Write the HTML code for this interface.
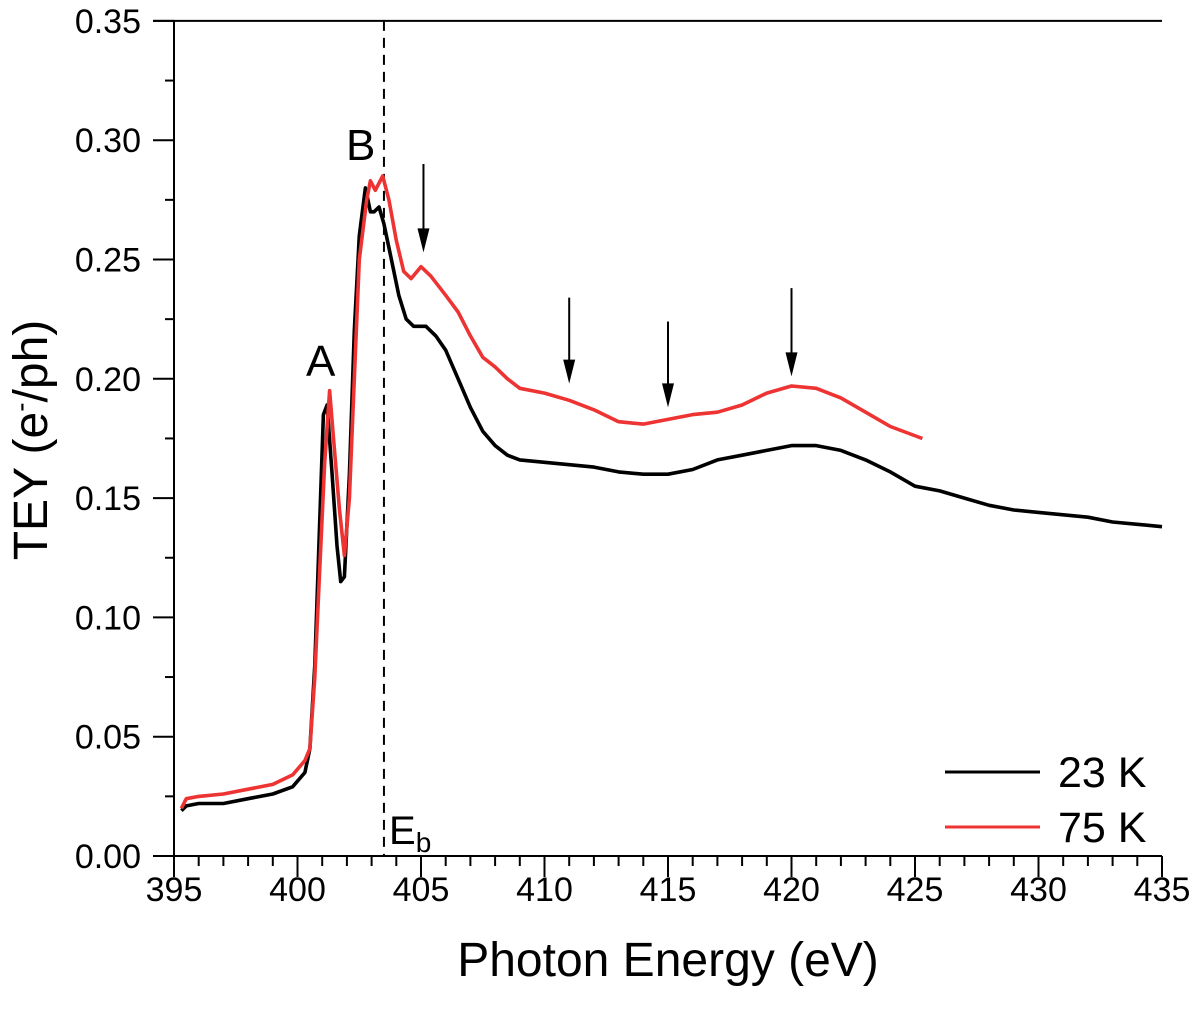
<!DOCTYPE html>
<html><head><meta charset="utf-8"><style>
body{margin:0;background:#fff}
svg text{font-family:"Liberation Sans",Arial,sans-serif;fill:#000}
</style></head><body>
<svg id="c" width="1200" height="1015" xmlns="http://www.w3.org/2000/svg"></svg>
<script>
const xTicks=[395,400,405,410,415,420,425,430,435];
const yTicks=[0.00,0.05,0.10,0.15,0.20,0.25,0.30,0.35];
const yTickLabels=["0.00","0.05","0.10","0.15","0.20","0.25","0.30","0.35"];
const blackX=[395.3,395.5,396,397,398,399,399.8,400.3,400.5,400.7,400.9,401.05,401.2,401.4,401.6,401.75,401.9,402.1,402.3,402.5,402.75,402.95,403.1,403.3,403.5,403.8,404.1,404.4,404.7,405.2,405.6,406,406.5,407,407.5,408,408.5,409,410,411,412,413,414,415,416,417,418,419,420,421,422,423,424,425,426,427,428,429,430,431,432,433,434,435];
const blackY=[0.019,0.021,0.022,0.022,0.024,0.026,0.029,0.035,0.045,0.08,0.14,0.185,0.189,0.16,0.13,0.115,0.117,0.16,0.22,0.26,0.28,0.27,0.27,0.272,0.265,0.25,0.235,0.225,0.222,0.222,0.218,0.212,0.2,0.188,0.178,0.172,0.168,0.166,0.165,0.164,0.163,0.161,0.16,0.16,0.162,0.166,0.168,0.17,0.172,0.172,0.17,0.166,0.161,0.155,0.153,0.15,0.147,0.145,0.144,0.143,0.142,0.14,0.139,0.138];
const redX=[395.3,395.5,396,397,398,399,399.8,400.3,400.5,400.7,400.9,401.1,401.3,401.5,401.7,401.9,402.1,402.3,402.5,402.8,402.95,403.15,403.45,403.7,404,404.3,404.6,405,405.4,406,406.5,407,407.5,408,408.5,409,410,411,412,413,414,415,416,417,418,419,420,421,422,423,424,425.3];
const redY=[0.02,0.024,0.025,0.026,0.028,0.03,0.034,0.04,0.045,0.075,0.12,0.165,0.195,0.17,0.145,0.126,0.15,0.2,0.25,0.275,0.283,0.279,0.285,0.275,0.258,0.245,0.242,0.247,0.243,0.235,0.228,0.218,0.209,0.205,0.2,0.196,0.194,0.191,0.187,0.182,0.181,0.183,0.185,0.186,0.189,0.194,0.197,0.196,0.192,0.186,0.18,0.175];
const arrowX=[405.1,411,415,420];
const arrowTop=[0.290,0.234,0.224,0.238];
const arrowTip=[0.253,0.198,0.188,0.201];
const ebX=403.5;

const X=v=>174+(v-395)*24.7;
const Y=v=>856-v*2386;
const svg=document.getElementById('c');
const NS='http://www.w3.org/2000/svg';
function mk(t,a,p){const e=document.createElementNS(NS,t);for(const k in a)e.setAttribute(k,a[k]);(p||svg).appendChild(e);return e;}

let e=mk('line',{x1:174,y1:Y(0),x2:1162,y2:Y(0),stroke:'#000','stroke-width':2});


e=mk('line',{x1:174,y1:Y(0.35),x2:174,y2:Y(0),stroke:'#000','stroke-width':2});


e=mk('line',{x1:153,y1:Y(0.35),x2:1162,y2:Y(0.35),stroke:'#000','stroke-width':2});



for(let v=395;v<=435;v++){const maj=(v%5===0);
 e=mk('line',{x1:X(v),y1:856,x2:X(v),y2:maj?877:866,stroke:'#000','stroke-width':2});
 
 }
xTicks.forEach(v=>{e=mk('text',{x:X(v),y:901,'font-size':34,'text-anchor':'middle'});e.textContent=v;
 
 });
for(let i=0;i<=14;i++){const v=i*0.025;const maj=i%2===0;
 e=mk('line',{x1:maj?153:165,y1:Y(v),x2:174,y2:Y(v),stroke:'#000','stroke-width':2});
 
 }
yTicks.forEach((v,i)=>{e=mk('text',{x:141,y:Y(v)+12,'font-size':34,'text-anchor':'end'});e.textContent=yTickLabels[i];
 
 });

e=mk('line',{x1:X(ebX),y1:Y(0.35),x2:X(ebX),y2:Y(0),stroke:'#000','stroke-width':2,'stroke-dasharray':'10,7'});



function series(xs,ys,col,name){const d=xs.map((x,i)=>(i?'L':'M')+X(x).toFixed(1)+','+Y(ys[i]).toFixed(1)).join('');
 const p=mk('path',{d:d,fill:'none',stroke:col,'stroke-width':3.6,'stroke-linejoin':'round'});
 
 }
series(blackX,blackY,'#000','series-23k');
series(redX,redY,'#ee3333','series-75k');

arrowX.forEach((a,i)=>{const g=mk('g',{});
 
 
 mk('line',{x1:X(a),y1:Y(arrowTop[i]),x2:X(a),y2:Y(arrowTip[i])-20,stroke:'#000','stroke-width':2},g);
 mk('path',{d:`M${X(a)-6},${Y(arrowTip[i])-24}L${X(a)+6},${Y(arrowTip[i])-24}L${X(a)},${Y(arrowTip[i])}Z`,fill:'#000'},g);});

function txt(x,y,s,fs,name,extra){const t=mk('text',Object.assign({x:x,y:y,'font-size':fs},extra||{}));t.innerHTML=s;
 
 return t;}
txt(306,376,'A',44,'peak-a-label');
txt(346,160,'B',44,'peak-b-label');
txt(389,844,'E<tspan font-size="28" dy="8">b</tspan>',40,'eb-label');
txt(668,976,'Photon Energy (eV)',48,'x-axis-title',{'text-anchor':'middle'});
txt(0,0,'TEY  (e<tspan font-size="28" dy="-17">-</tspan><tspan dy="17">/ph)</tspan>',48,'y-axis-title',{'text-anchor':'middle',transform:'translate(47,440) rotate(-90)'});

e=mk('line',{x1:945,y1:772,x2:1040,y2:772,stroke:'#000','stroke-width':3});


e=mk('line',{x1:945,y1:827,x2:1040,y2:827,stroke:'#ee3333','stroke-width':3});


txt(1058,787,'23 K',43,'legend-label-23k');
txt(1058,842,'75 K',43,'legend-label-75k');
</script>
</body></html>
